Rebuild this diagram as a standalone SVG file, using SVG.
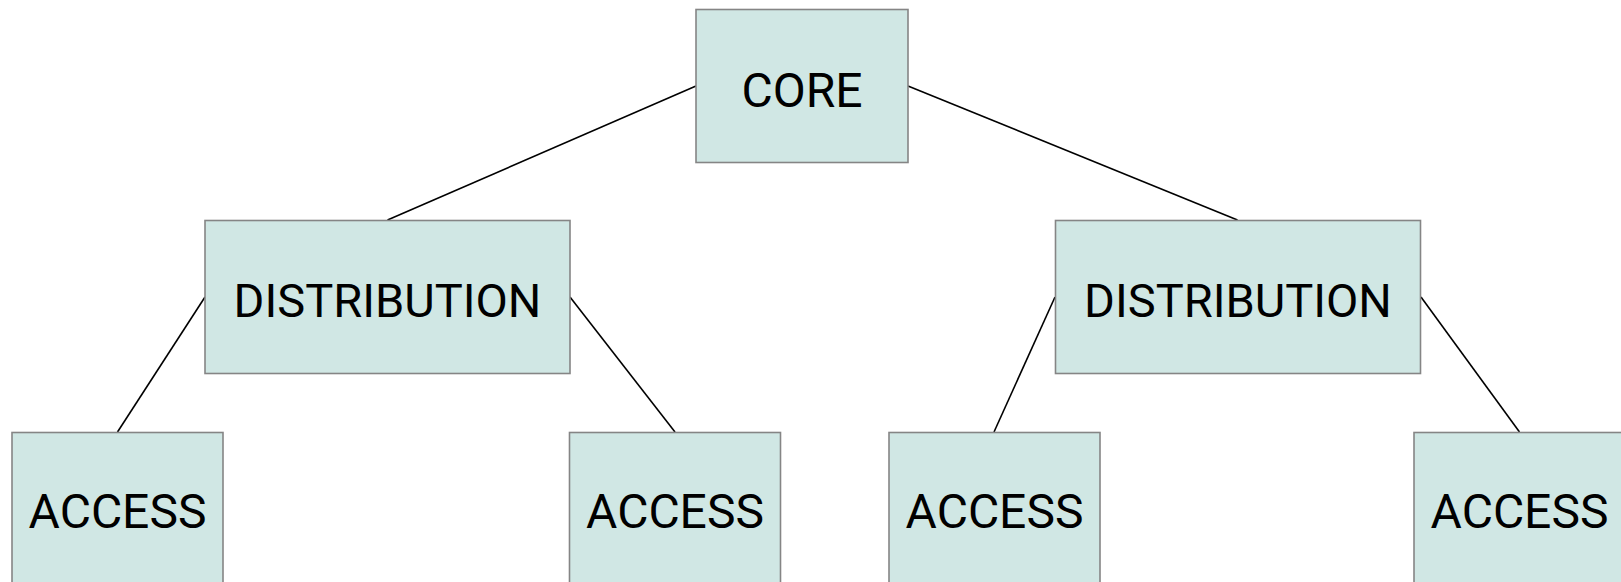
<svg xmlns="http://www.w3.org/2000/svg" width="1621" height="582" viewBox="0 0 1621 582">
<style>
.box{fill:#d0e7e4;stroke:#858585;stroke-width:1.6}
.lbl{font-family:Roboto,"Liberation Sans",sans-serif;font-size:48px;fill:#000;text-anchor:middle}
.dl{font-size:47px}
.con{stroke:#000;stroke-width:1.6;fill:none}
</style>
<rect width="1621" height="582" fill="#fff"/>
<g id="connectors">
<line class="con" x1="696" y1="86" x2="387.5" y2="220"/>
<line class="con" x1="908" y1="86" x2="1237.5" y2="220"/>
<line class="con" x1="205" y1="297" x2="117.5" y2="432"/>
<line class="con" x1="570" y1="297" x2="675" y2="432"/>
<line class="con" x1="1055" y1="297" x2="994" y2="432"/>
<line class="con" x1="1421" y1="297" x2="1519.5" y2="432"/>
</g>
<g id="core"><rect class="box" x="696" y="9.5" width="212" height="153"/><text class="lbl" x="802" y="107">CORE</text></g>
<g id="dist1"><rect class="box" x="205" y="220.5" width="365" height="153"/><text class="lbl dl" x="387.5" y="317">DISTRIBUTION</text></g>
<g id="dist2"><rect class="box" x="1055.5" y="220.5" width="365" height="153"/><text class="lbl dl" x="1238" y="317">DISTRIBUTION</text></g>
<g id="access1"><rect class="box" x="12" y="432.5" width="211" height="153"/><text class="lbl" x="117.5" y="528">ACCESS</text></g>
<g id="access2"><rect class="box" x="569.5" y="432.5" width="211" height="153"/><text class="lbl" x="675" y="528">ACCESS</text></g>
<g id="access3"><rect class="box" x="889" y="432.5" width="211" height="153"/><text class="lbl" x="994.5" y="528">ACCESS</text></g>
<g id="access4"><rect class="box" x="1414" y="432.5" width="211" height="153"/><text class="lbl" x="1519.5" y="528">ACCESS</text></g>
</svg>
